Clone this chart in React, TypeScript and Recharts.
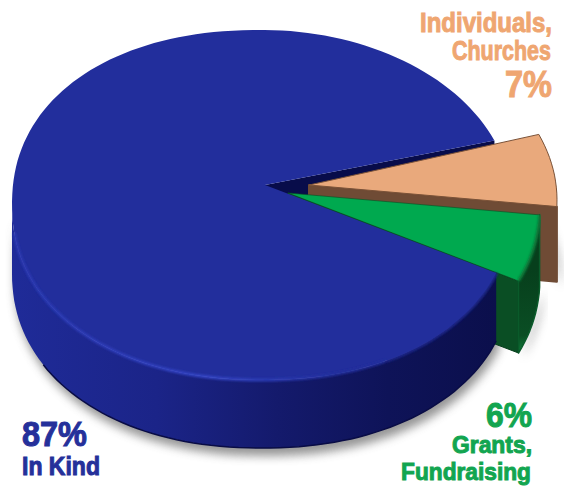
import React from "react";
import { PieChart, Pie } from "recharts";

const sliceNames = ["Individuals, Churches", "Grants, Fundraising", "In Kind"];
const sliceValues = [7, 6, 87];
const data = sliceNames.map((name, i) => ({ name, value: sliceValues[i] }));

const amberLabels = ["Individuals,", "Churches", "7%"];
const greenLabels = ["6%", "Grants,", "Fundraising"];
const blueLabels = ["87%", "In Kind"];

// look of each slice: ox/oy move the ellipse, ax/ay place the tip of the wedge
const looks: Record<string, any> = {
  "Individuals, Churches": { ox: 45, oy: -5, ax: 47, ay: -20, depth: 75, top: "#E9A97C", wall: "#6F4B35", rim: "#7A5238", trimA: 0, trimB: 1.5 },
  "Grants, Fundraising": { ox: 28, oy: -2, ax: 26, ay: -12, depth: 72, top: "#00A94F", wall: "url(#greenWall)", rim: "#0A4E24", trimA: 0, trimB: 0 },
  "In Kind": { ox: 0, oy: 0, ax: 3, ay: -20, depth: 68, top: "#222E9C", wall: "url(#blueWall)", rim: "#0B0F4C", trimA: -3.6, trimB: -0.4 },
};

const TILT = 175 / 250;

function rim(p: any, look: any, deg: number) {
  const a = (deg * Math.PI) / 180;
  const c = Math.cos(a);
  const s = Math.sin(a);
  // the photo's disc is not a true ellipse, each part bulges a little differently
  const ex = s < 0 ? 2 / 2.15 : c < 0 ? 2 / 2.2 : 1;
  const x = p.cx + look.ox + p.outerRadius * Math.sign(c) * Math.pow(Math.abs(c), ex);
  const y = p.cy + look.oy - Math.sign(s) * p.outerRadius * TILT * Math.pow(Math.abs(s), ex);
  return [x, y];
}

function arc(p: any, look: any, from: number, to: number, dy = 0) {
  const pts = [];
  const n = Math.max(2, Math.ceil(Math.abs(to - from) / 2));
  for (let i = 0; i <= n; i++) {
    const q = rim(p, look, from + ((to - from) * i) / n);
    pts.push(`${q[0].toFixed(1)} ${(q[1] + dy).toFixed(1)}`);
  }
  return pts;
}

const line = (pts: string[]) => "M" + pts.join("L");

function angles(p: any, look: any) {
  return [p.startAngle - look.trimA, p.endAngle + look.trimB];
}

// soft shadows and the far cut wall of the big slice, under everything else
function BackShape(p: any) {
  const look = looks[p.name];
  const [a0, a1] = angles(p, look);
  const tip = [p.cx + look.ax, p.cy + look.ay];
  if (p.name !== "In Kind") {
    const shadow = line(arc(p, look, a0, a1, look.depth)) + "Z";
    return <path d={shadow} fill="#8c8c8c" opacity={0.7} filter="url(#soft)" transform="translate(4 5)" />;
  }
  const low = line([...arc(p, look, a0, -180), ...arc(p, look, -180, a0, look.depth)]) + "Z";
  const end = rim(p, look, a1);
  return (
    <g>
      <path d={low} fill="#7c7c7c" opacity={0.8} filter="url(#soft)" transform="translate(3 8)" />
      <path
        d={`M${tip[0]} ${tip[1]}L${end[0]} ${end[1]}L${end[0]} ${end[1] + look.depth}L${tip[0]} ${tip[1] + look.depth}Z`}
        fill="#080C4A"
      />
    </g>
  );
}

function SliceShape(p: any) {
  const look = looks[p.name];
  const [a0, a1] = angles(p, look);
  const tip = [p.cx + look.ax, p.cy + look.ay];
  const topFace = `M${tip[0]} ${tip[1]}L` + arc(p, look, a0, a1).join("L") + "Z";

  if (p.name === "In Kind") {
    const wall = line([...arc(p, look, a0, -180), ...arc(p, look, -180, a0, look.depth)]) + "Z";
    return (
      <g>
        <path d={wall} fill={look.wall} />
        <path d={line(arc(p, look, -150, a0, look.depth))} fill="none" stroke="#090C45" strokeWidth={1.5} />
        <path d={line(arc(p, look, -62, a0))} fill="none" stroke="#1C2688" strokeWidth={4} filter="url(#tiny)" />
        <path d={topFace} fill={look.top} />
        <path d={line(arc(p, look, -172, -62))} fill="none" stroke="url(#blueEdge)" strokeWidth={3} filter="url(#tiny)" />
      </g>
    );
  }

  const end = rim(p, look, a1);
  const cut = `M${tip[0]} ${tip[1]}L${end[0]} ${end[1]}L${end[0]} ${end[1] + look.depth}L${tip[0]} ${tip[1] + look.depth}Z`;
  const outer = line([...arc(p, look, a0, a1), ...arc(p, look, a1, a0, look.depth)]) + "Z";
  const amber = p.name.startsWith("Individuals");
  return (
    <g>
      {amber ? (
        <path d={cut} fill={look.wall} stroke={look.wall} strokeWidth={2} strokeLinejoin="round" />
      ) : (
        <>
          <path d={cut} fill="#0A4E24" stroke="#063D1B" strokeWidth={1} />
          <path d={outer} fill={look.wall} stroke="#0A5A2A" strokeWidth={1.5} strokeLinejoin="round" />
        </>
      )}
      <path d={topFace} fill={look.top} stroke={look.rim} strokeWidth={amber ? 1 : 0.6} strokeLinejoin="round" />
      {!amber && <path d={line(arc(p, look, a0, a1))} fill="none" stroke="#0A7A3A" strokeWidth={3} filter="url(#tiny)" />}
    </g>
  );
}

const labelFont = "'Liberation Sans Narrow', 'Liberation Sans', sans-serif";

function Word(props: { x: number; y: number; size: number; len: number; fill: string; anchor?: string; children: string }) {
  return (
    <text
      x={props.x}
      y={props.y}
      fontSize={props.size}
      fill={props.fill}
      stroke={props.fill}
      strokeWidth={1}
      fontFamily={labelFont}
      fontWeight={700}
      textAnchor={props.anchor || "end"}
      textLength={props.len}
      lengthAdjust="spacingAndGlyphs"
    >
      {props.children}
    </text>
  );
}

export default function App() {
  return (
    <div style={{ position: "absolute", left: 0, top: 0, background: "#fff" }}>
      <PieChart width={564} height={490} margin={{ top: 0, right: 0, bottom: 0, left: 0 }}>
        <defs>
          <filter id="soft" x="-20%" y="-20%" width="140%" height="140%">
            <feGaussianBlur stdDeviation="5" />
          </filter>
          <filter id="tiny" x="-5%" y="-5%" width="110%" height="110%">
            <feGaussianBlur stdDeviation="1" />
          </filter>
          <linearGradient id="blueWall" gradientUnits="userSpaceOnUse" x1="12" y1="0" x2="495" y2="0">
            <stop offset="0" stopColor="#1F2B98" />
            <stop offset="0.3" stopColor="#1B2488" />
            <stop offset="0.55" stopColor="#141A6C" />
            <stop offset="0.78" stopColor="#0E1358" />
            <stop offset="1" stopColor="#0B0F4C" />
          </linearGradient>
          <linearGradient id="blueEdge" gradientUnits="userSpaceOnUse" x1="12" y1="0" x2="340" y2="0">
            <stop offset="0" stopColor="#2A38B0" />
            <stop offset="0.6" stopColor="#3445C6" />
            <stop offset="1" stopColor="#222E9C" />
          </linearGradient>
          <linearGradient id="greenWall" gradientUnits="userSpaceOnUse" x1="0" y1="270" x2="0" y2="352">
            <stop offset="0" stopColor="#073F1C" />
            <stop offset="0.8" stopColor="#0A4E24" />
            <stop offset="1" stopColor="#0E7A38" />
          </linearGradient>
        </defs>
        <Pie
          data={data}
          dataKey="value"
          nameKey="name"
          cx={262}
          cy={205}
          outerRadius={250}
          startAngle={22}
          endAngle={-338}
          shape={BackShape}
          isAnimationActive={false}
        />
        <Pie
          data={data}
          dataKey="value"
          nameKey="name"
          cx={262}
          cy={205}
          outerRadius={250}
          startAngle={22}
          endAngle={-338}
          shape={SliceShape}
          isAnimationActive={false}
        />
        <Word x={552} y={32} size={28} len={132} fill="#EFA671">{amberLabels[0]}</Word>
        <Word x={551} y={60} size={28} len={99} fill="#EFA671">{amberLabels[1]}</Word>
        <Word x={552} y={97} size={36} len={47} fill="#EFA671">{amberLabels[2]}</Word>
        <Word x={532} y={427} size={35} len={46} fill="#12A550">{greenLabels[0]}</Word>
        <Word x={532} y={453} size={24} len={80} fill="#12A550">{greenLabels[1]}</Word>
        <Word x={531} y={480} size={24} len={130} fill="#12A550">{greenLabels[2]}</Word>
        <Word x={22} y={446} size={35} len={65} anchor="start" fill="#25309A">{blueLabels[0]}</Word>
        <Word x={22} y={475} size={26} len={78} anchor="start" fill="#25309A">{blueLabels[1]}</Word>
      </PieChart>
    </div>
  );
}
